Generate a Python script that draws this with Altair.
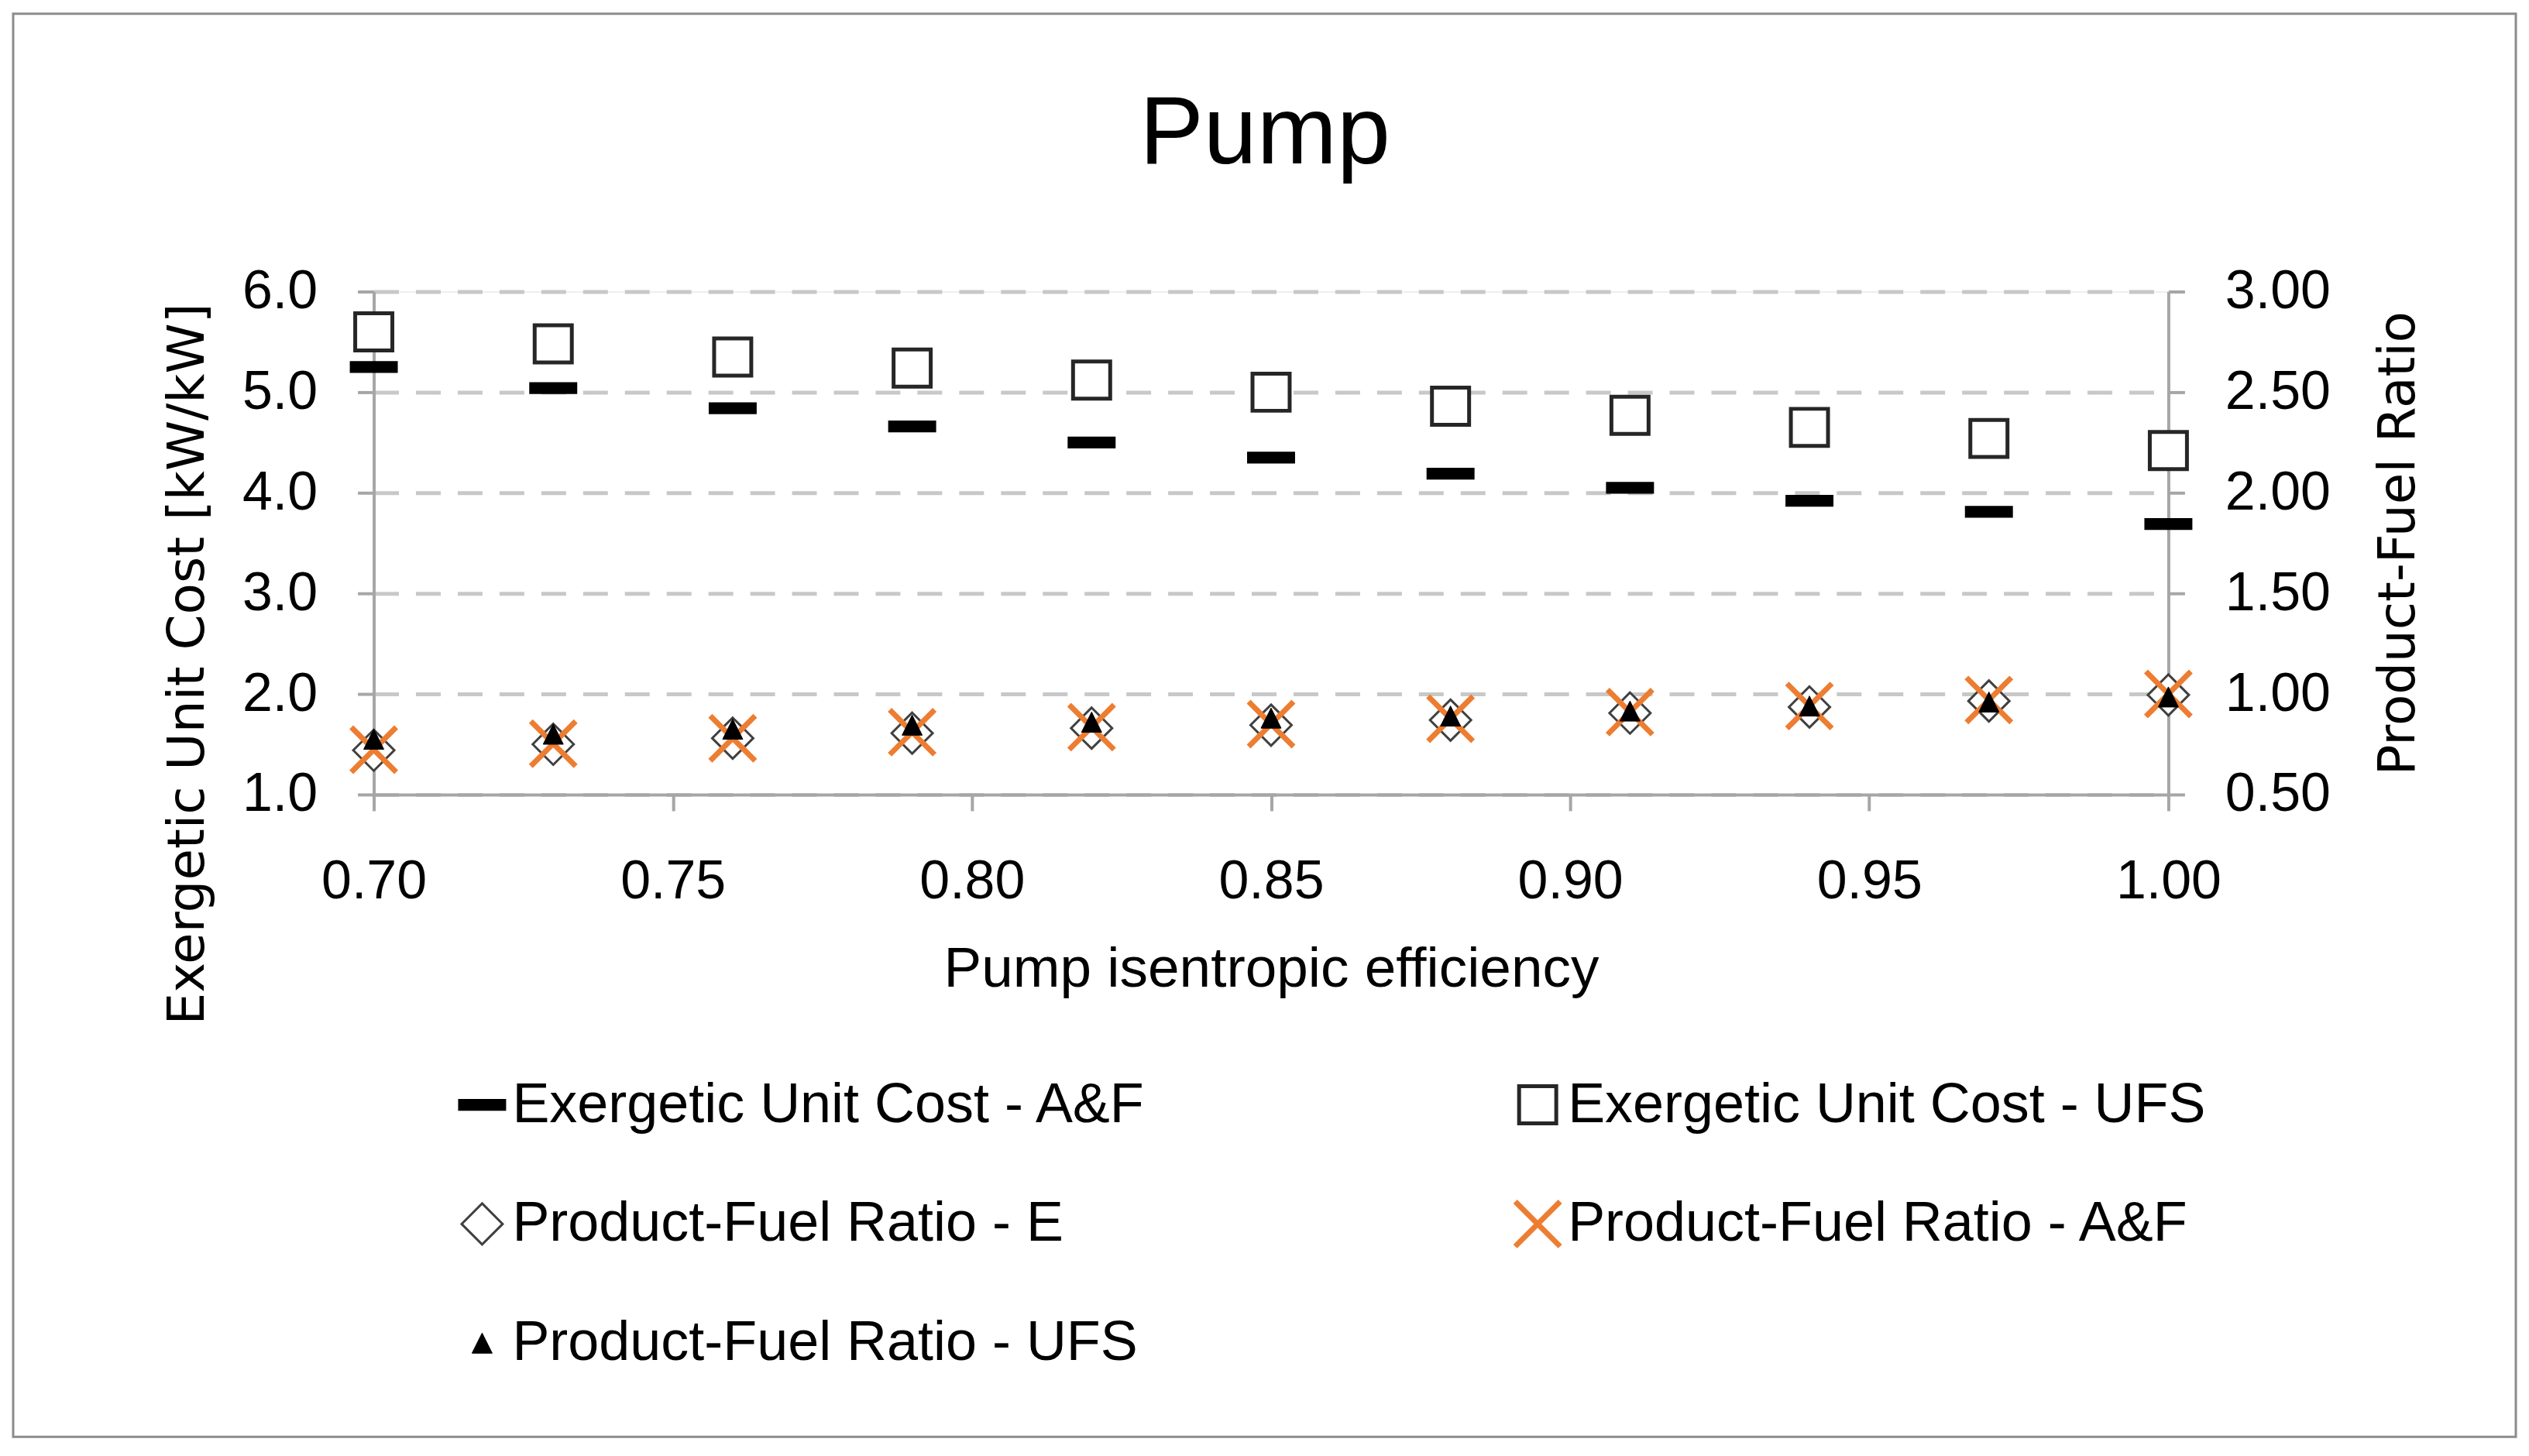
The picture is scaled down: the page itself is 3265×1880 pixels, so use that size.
import altair as alt
import pandas as pd

# ---------------- data ----------------
efficiency = [0.70, 0.73, 0.76, 0.79, 0.82, 0.85, 0.88, 0.91, 0.94, 0.97, 1.00]

cost_af = [5.25, 5.04, 4.84, 4.66, 4.50, 4.35, 4.19, 4.05, 3.92, 3.81, 3.69]
cost_ufs = [5.60, 5.48, 5.35, 5.24, 5.12, 5.00, 4.86, 4.77, 4.65, 4.54, 4.42]

ratio_e = [0.72, 0.75, 0.78, 0.805, 0.83, 0.845, 0.87, 0.905, 0.935, 0.965, 0.995]
ratio_af = [0.723, 0.753, 0.78, 0.81, 0.835, 0.85, 0.877, 0.91, 0.94, 0.97, 1.00]
ratio_ufs = [0.775, 0.80, 0.825, 0.845, 0.86, 0.88, 0.89, 0.915, 0.94, 0.96, 0.985]

S_COST_AF = "Exergetic Unit Cost  - A&F"
S_COST_UFS = "Exergetic Unit Cost  - UFS"
S_PF_E = "Product-Fuel Ratio -  E"
S_PF_AF = "Product-Fuel Ratio -  A&F"
S_PF_UFS = "Product-Fuel Ratio - UFS"

x_ticks = [0.70, 0.75, 0.80, 0.85, 0.90, 0.95, 1.00]
left_ticks = [1.0, 2.0, 3.0, 4.0, 5.0, 6.0]
right_ticks = [0.5, 1.0, 1.5, 2.0, 2.5, 3.0]

# ---------------- tables ----------------
def long(values, name):
    return pd.DataFrame({"eff": efficiency, "value": values, "series": name})

cost_df = pd.concat([long(cost_af, S_COST_AF), long(cost_ufs, S_COST_UFS)])
ratio_df = pd.concat([
    long(ratio_e, S_PF_E),
    long(ratio_af, S_PF_AF),
    long(ratio_ufs, S_PF_UFS),
])

# ---------------- styles ----------------
# legend is filled column by column: col 1 = A&F cost, E ratio, UFS ratio; col 2 = UFS cost, A&F ratio
style = {
    S_COST_AF:  dict(shape="M-1,-0.22H1V0.22H-1Z", size=3600, fill="black", stroke="black", sw=2),
    S_PF_E:     dict(shape="M0,-1L1,0L0,1L-1,0Z", size=2809, fill="white", stroke="#404040", sw=3),
    S_PF_UFS:   dict(shape="M0,-1L1,1L-1,1Z", size=676, fill="black", stroke="black", sw=1),
    S_COST_UFS: dict(shape="M-1,-1H1V1H-1Z", size=2304, fill="white", stroke="#262626", sw=5),
    S_PF_AF:    dict(shape="M-1,-1L1,1M1,-1L-1,1", size=3364, fill="transparent", stroke="#ED7D31", sw=7),
}
legend_order = [S_COST_AF, S_PF_E, S_PF_UFS, S_COST_UFS, S_PF_AF]

FONT = "Liberation Sans"
YFONT = "DejaVu Sans"
AXIS_GRAY = "#A6A6A6"

legend = alt.Legend(
    title=None,
    orient="none",
    legendX=104,
    legendY=1015,
    columns=2,
    columnPadding=441,
    rowPadding=75,
    labelFont=FONT,
    labelFontSize=72,
    labelColor="black",
    labelOffset=3,
    labelLimit=3000,
    padding=0,
)

def rng(key):
    return [style[s][key] for s in legend_order]

def style_enc():
    return dict(
        shape=alt.Shape("series:N", scale=alt.Scale(domain=legend_order, range=rng("shape")), legend=legend),
        size=alt.Size("series:N", scale=alt.Scale(type="ordinal", domain=legend_order, range=rng("size")), legend=legend),
        fill=alt.Fill("series:N", scale=alt.Scale(domain=legend_order, range=rng("fill")), legend=legend),
        stroke=alt.Stroke("series:N", scale=alt.Scale(domain=legend_order, range=rng("stroke")), legend=legend),
        strokeWidth=alt.StrokeWidth("series:N", scale=alt.Scale(type="ordinal", domain=legend_order, range=rng("sw")), legend=legend),
    )

x_enc = alt.X(
    "eff:Q",
    scale=alt.Scale(domain=[0.70, 1.00], nice=False, zero=False),
    axis=alt.Axis(
        values=x_ticks, format=".2f", grid=False,
        tickSize=21, tickWidth=4, tickColor=AXIS_GRAY,
        domainColor=AXIS_GRAY, domainWidth=4,
        labelFont=FONT, labelFontSize=70, labelColor="black", labelPadding=58,
        labelFlush=False, labelOverlap=False,
        title="Pump isentropic efficiency", titleFont=FONT, titleFontSize=73,
        titleFontWeight="normal", titleColor="black", titlePadding=42,
    ),
)

cost_layer = alt.Chart(cost_df).mark_point(opacity=1).encode(
    x=x_enc,
    y=alt.Y(
        "value:Q",
        scale=alt.Scale(domain=[1, 6], nice=False, zero=False),
        axis=alt.Axis(
            orient="left", values=left_ticks, format=".1f",
            grid=True, gridDash=[32, 22], gridColor="#C8C8C8", gridWidth=5,
            tickSize=21, tickWidth=4, tickColor=AXIS_GRAY,
            domainColor=AXIS_GRAY, domainWidth=4,
            labelFont=FONT, labelFontSize=70, labelColor="black", labelPadding=52,
            labelFlush=False, labelOverlap=False,
            title="Exergetic Unit Cost [kW/kW]", titleFont=YFONT, titleFontSize=66,
            titleFontWeight="normal", titleColor="black", titlePadding=36,
            titleY=481,
        ),
    ),
    **style_enc(),
)

ratio_layer = alt.Chart(ratio_df).mark_point(opacity=1).encode(
    x=x_enc,
    y=alt.Y(
        "value:Q",
        scale=alt.Scale(domain=[0.5, 3.0], nice=False, zero=False),
        axis=alt.Axis(
            orient="right", values=right_ticks, format=".2f", grid=False,
            tickSize=21, tickWidth=4, tickColor=AXIS_GRAY,
            domainColor=AXIS_GRAY, domainWidth=4,
            labelFont=FONT, labelFontSize=70, labelColor="black", labelPadding=52,
            labelFlush=False, labelOverlap=False,
            title="Product-Fuel Ratio", titleFont=YFONT, titleFontSize=66,
            titleFontWeight="normal", titleColor="black", titlePadding=131,
            titleAngle=270,
        ),
    ),
    **style_enc(),
)

frame = alt.Chart(pd.DataFrame({"k": [0]})).mark_rect(
    fill="transparent", stroke="#8C8C8C", strokeWidth=3
).encode(
    x=alt.value(-466), x2=alt.value(2768), y=alt.value(-359), y2=alt.value(1480)
)

chart = alt.layer(frame, cost_layer, ratio_layer).resolve_scale(
    y="independent"
).properties(
    width=2319,
    height=650,
    padding=7,
    title=alt.TitleParams(
        "Pump", font=FONT, fontSize=124, fontWeight="normal", color="black",
        anchor="middle", offset=0, baseline="alphabetic", dy=319, dx=-8,
    ),
).configure_view(stroke=None).configure(background="white")

chart.save("out.html", embed_options={"renderer": "svg", "actions": False})
